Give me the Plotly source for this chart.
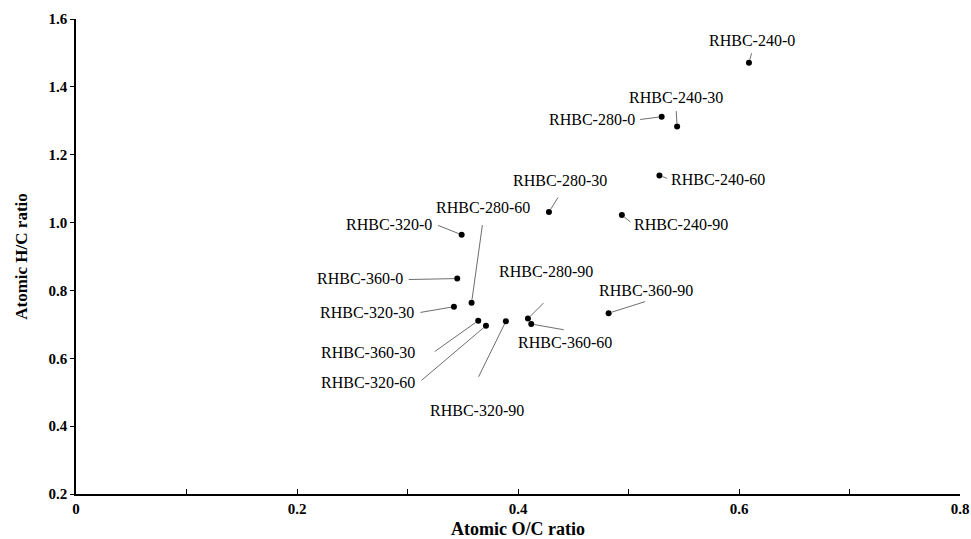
import plotly.graph_objects as go

# ---- data ----
labels = ["RHBC-240-0", "RHBC-240-30", "RHBC-280-0", "RHBC-240-60", "RHBC-280-30",
          "RHBC-240-90", "RHBC-320-0", "RHBC-360-0", "RHBC-280-60", "RHBC-320-30",
          "RHBC-360-30", "RHBC-320-60", "RHBC-320-90", "RHBC-280-90", "RHBC-360-60",
          "RHBC-360-90"]
oc_ratio = [0.609, 0.544, 0.530, 0.528, 0.428, 0.494, 0.349, 0.345, 0.358, 0.342,
            0.364, 0.371, 0.389, 0.409, 0.412, 0.482]
hc_ratio = [1.471, 1.283, 1.312, 1.139, 1.031, 1.022, 0.964, 0.835, 0.764, 0.752,
            0.711, 0.696, 0.709, 0.717, 0.701, 0.733]

x_ticks = [0, 0.1, 0.2, 0.3, 0.4, 0.5, 0.6, 0.7, 0.8]
x_ticktext = ["0", "", "0.2", "", "0.4", "", "0.6", "", "0.8"]
y_ticks = [0.2, 0.4, 0.6, 0.8, 1.0, 1.2, 1.4, 1.6]

# ---- label placement (pixel offsets from each point) ----
# text centre offset (dx, dy) and leader-line start offset (lx, ly)
text_off = [(3, -22), (-1, -29), (-70, 3), (59, 4), (11, -32), (59, 9), (-73, -10),
            (-97, 0), (11, -95), (-87, 6), (-110, 32), (-118, 57), (-29, 89),
            (18, -47), (34, 18), (37, -23)]
line_off = [(3, -11), (-1, -17), (-23, 3), (9, 3.5), (10, -16), (10, 8), (-25, -10),
            (-50, 1), (11, -79), (-35, 6), (-45, 32), (-66, 56), (-28, 57),
            (17, -17), (34, 6), (38, -12)]

FONT = "Liberation Serif"

fig = go.Figure()
fig.add_trace(go.Scatter(
    x=oc_ratio, y=hc_ratio, mode="markers",
    marker=dict(color="black", size=6),
    cliponaxis=False, showlegend=False,
))

annotations = []
for lab, xv, yv, (dx, dy), (lx, ly) in zip(labels, oc_ratio, hc_ratio, text_off, line_off):
    annotations.append(dict(
        x=xv, y=yv, xref="x", yref="y", text="", showarrow=True,
        ax=lx, ay=ly, axref="pixel", ayref="pixel",
        arrowhead=0, arrowwidth=1, arrowcolor="#6e6e6e", standoff=3,
    ))
    annotations.append(dict(
        x=xv, y=yv, xref="x", yref="y", text=lab, showarrow=False,
        xshift=dx, yshift=-dy, xanchor="center", yanchor="middle",
        font=dict(family=FONT, size=16, color="black"),
    ))

fig.update_layout(
    width=971, height=539,
    margin=dict(l=76, r=11, t=19, b=45),
    paper_bgcolor="white", plot_bgcolor="white",
    font=dict(family=FONT, color="black"),
    annotations=annotations,
    xaxis=dict(
        range=[0, 0.8], tickvals=x_ticks, ticktext=x_ticktext, automargin=False,
        ticks="inside", ticklen=5, tickwidth=1.2, tickcolor="black",
        showline=True, linecolor="black", linewidth=1.6,
        showgrid=False, zeroline=False,
        tickfont=dict(family=FONT, size=15, color="black", weight="bold"),
        title=dict(text="<b>Atomic O/C ratio</b>", standoff=11,
                   font=dict(family=FONT, size=18, color="black")),
    ),
    yaxis=dict(
        range=[0.2, 1.6], tickvals=y_ticks, tickformat=".1f", automargin=False,
        ticks="outside", ticklen=4, tickwidth=1.2, tickcolor="black",
        showline=True, linecolor="black", linewidth=1.6,
        showgrid=False, zeroline=False,
        tickfont=dict(family=FONT, size=15, color="black", weight="bold"),
        title=dict(text="<b>Atomic H/C ratio</b>", standoff=17,
                   font=dict(family=FONT, size=17, color="black")),
    ),
)

# remove the browser's default 8px body margin so the figure fills the window
fig.write_html("out.html",
               config={"displayModeBar": False},
               post_script="document.body.style.margin='0px';document.body.style.overflow='hidden';")
